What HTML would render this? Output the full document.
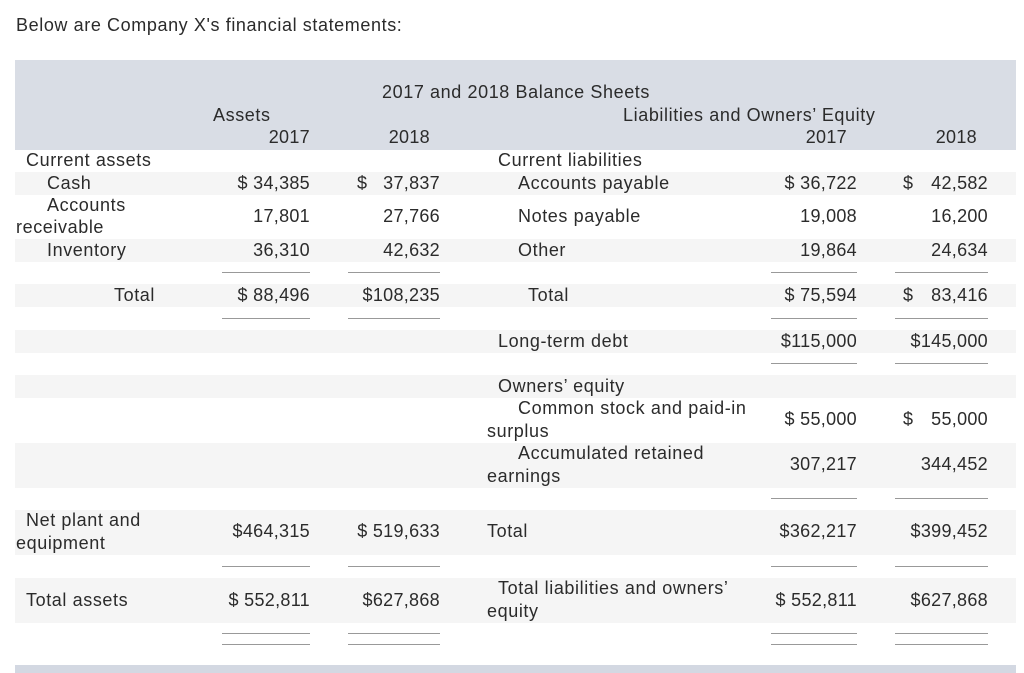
<!DOCTYPE html>
<html><head><style>
body{margin:0;width:1024px;height:673px;background:#fff;font-family:"Liberation Sans",sans-serif;color:#2b2b2b;font-size:18px;letter-spacing:0.6px;position:relative;overflow:hidden}
.a{position:absolute;white-space:nowrap;line-height:22px}
.r{text-align:right;letter-spacing:0.3px}
.bg{position:absolute;left:15px;width:1001px;background:#f5f5f5}
.l{position:absolute;height:1px;background:#999}
</style></head><body>
<div class="a" style="left:16px;top:14px">Below are Company X's financial statements:</div>
<div style="position:absolute;left:15px;top:60px;width:1001px;height:90px;background:#d9dde5"></div>
<div class="bg" style="top:172px;height:23px"></div>
<div class="bg" style="top:239px;height:23px"></div>
<div class="bg" style="top:284px;height:23px"></div>
<div class="bg" style="top:330px;height:23px"></div>
<div class="bg" style="top:375px;height:23px"></div>
<div class="bg" style="top:443px;height:45px"></div>
<div class="bg" style="top:510px;height:45px"></div>
<div class="bg" style="top:578px;height:45px"></div>
<div style="position:absolute;left:15px;top:665px;width:1001px;height:8px;background:#d3d8e2"></div>

<div class="a" style="left:382px;top:81px">2017 and 2018 Balance Sheets</div>
<div class="a" style="left:213px;top:104px">Assets</div>
<div class="a" style="left:623px;top:104px">Liabilities and Owners’ Equity</div>
<div class="a r" style="left:200px;width:110px;top:126px">2017</div>
<div class="a r" style="left:330px;width:100px;top:126px">2018</div>
<div class="a r" style="left:740px;width:107px;top:126px">2017</div>
<div class="a r" style="left:880px;width:97px;top:126px">2018</div>

<div class="a" style="left:26px;top:149px">Current assets</div>
<div class="a" style="left:47px;top:172px">Cash</div>
<div class="a" style="left:47px;top:194px">Accounts</div>
<div class="a" style="left:16px;top:216px">receivable</div>
<div class="a" style="left:47px;top:239px">Inventory</div>
<div class="a" style="left:114px;top:284px">Total</div>
<div class="a" style="left:26px;top:509px">Net plant and</div>
<div class="a" style="left:16px;top:532px">equipment</div>
<div class="a" style="left:26px;top:589px">Total assets</div>

<div class="a r" style="left:200px;width:110px;top:172px">$ 34,385</div>
<div class="a r" style="left:200px;width:110px;top:205px">17,801</div>
<div class="a r" style="left:200px;width:110px;top:239px">36,310</div>
<div class="a r" style="left:200px;width:110px;top:284px">$ 88,496</div>
<div class="a r" style="left:200px;width:110px;top:520px">$464,315</div>
<div class="a r" style="left:200px;width:110px;top:589px">$ 552,811</div>

<div class="a" style="left:357px;top:172px">$</div>
<div class="a r" style="left:340px;width:100px;top:172px">37,837</div>
<div class="a r" style="left:340px;width:100px;top:205px">27,766</div>
<div class="a r" style="left:340px;width:100px;top:239px">42,632</div>
<div class="a r" style="left:340px;width:100px;top:284px">$108,235</div>
<div class="a r" style="left:340px;width:100px;top:520px">$ 519,633</div>
<div class="a r" style="left:340px;width:100px;top:589px">$627,868</div>

<div class="a" style="left:498px;top:149px">Current liabilities</div>
<div class="a" style="left:518px;top:172px">Accounts payable</div>
<div class="a" style="left:518px;top:205px">Notes payable</div>
<div class="a" style="left:518px;top:239px">Other</div>
<div class="a" style="left:528px;top:284px">Total</div>
<div class="a" style="left:498px;top:330px">Long-term debt</div>
<div class="a" style="left:498px;top:375px">Owners’ equity</div>
<div class="a" style="left:518px;top:397px">Common stock and paid-in</div>
<div class="a" style="left:487px;top:420px">surplus</div>
<div class="a" style="left:518px;top:442px">Accumulated retained</div>
<div class="a" style="left:487px;top:465px">earnings</div>
<div class="a" style="left:487px;top:520px">Total</div>
<div class="a" style="left:498px;top:577px">Total liabilities and owners’</div>
<div class="a" style="left:487px;top:600px">equity</div>

<div class="a r" style="left:740px;width:117px;top:172px">$ 36,722</div>
<div class="a r" style="left:740px;width:117px;top:205px">19,008</div>
<div class="a r" style="left:740px;width:117px;top:239px">19,864</div>
<div class="a r" style="left:740px;width:117px;top:284px">$ 75,594</div>
<div class="a r" style="left:740px;width:117px;top:330px">$115,000</div>
<div class="a r" style="left:740px;width:117px;top:408px">$ 55,000</div>
<div class="a r" style="left:740px;width:117px;top:453px">307,217</div>
<div class="a r" style="left:740px;width:117px;top:520px">$362,217</div>
<div class="a r" style="left:740px;width:117px;top:589px">$ 552,811</div>

<div class="a" style="left:903px;top:172px">$</div>
<div class="a r" style="left:870px;width:118px;top:172px">42,582</div>
<div class="a r" style="left:870px;width:118px;top:205px">16,200</div>
<div class="a r" style="left:870px;width:118px;top:239px">24,634</div>
<div class="a" style="left:903px;top:284px">$</div>
<div class="a r" style="left:870px;width:118px;top:284px">83,416</div>
<div class="a r" style="left:870px;width:118px;top:330px">$145,000</div>
<div class="a" style="left:903px;top:408px">$</div>
<div class="a r" style="left:870px;width:118px;top:408px">55,000</div>
<div class="a r" style="left:870px;width:118px;top:453px">344,452</div>
<div class="a r" style="left:870px;width:118px;top:520px">$399,452</div>
<div class="a r" style="left:870px;width:118px;top:589px">$627,868</div>

<div class="l" style="left:222px;width:88px;top:272px"></div><div class="l" style="left:348px;width:92px;top:272px"></div>
<div class="l" style="left:222px;width:88px;top:318px"></div><div class="l" style="left:348px;width:92px;top:318px"></div>
<div class="l" style="left:222px;width:88px;top:566px"></div><div class="l" style="left:348px;width:92px;top:566px"></div>
<div class="l" style="left:222px;width:88px;top:633px"></div><div class="l" style="left:348px;width:92px;top:633px"></div>
<div class="l" style="left:222px;width:88px;top:644px"></div><div class="l" style="left:348px;width:92px;top:644px"></div>
<div class="l" style="left:771px;width:86px;top:272px"></div><div class="l" style="left:895px;width:93px;top:272px"></div>
<div class="l" style="left:771px;width:86px;top:318px"></div><div class="l" style="left:895px;width:93px;top:318px"></div>
<div class="l" style="left:771px;width:86px;top:363px"></div><div class="l" style="left:895px;width:93px;top:363px"></div>
<div class="l" style="left:771px;width:86px;top:498px"></div><div class="l" style="left:895px;width:93px;top:498px"></div>
<div class="l" style="left:771px;width:86px;top:566px"></div><div class="l" style="left:895px;width:93px;top:566px"></div>
<div class="l" style="left:771px;width:86px;top:633px"></div><div class="l" style="left:895px;width:93px;top:633px"></div>
<div class="l" style="left:771px;width:86px;top:644px"></div><div class="l" style="left:895px;width:93px;top:644px"></div>
</body></html>
